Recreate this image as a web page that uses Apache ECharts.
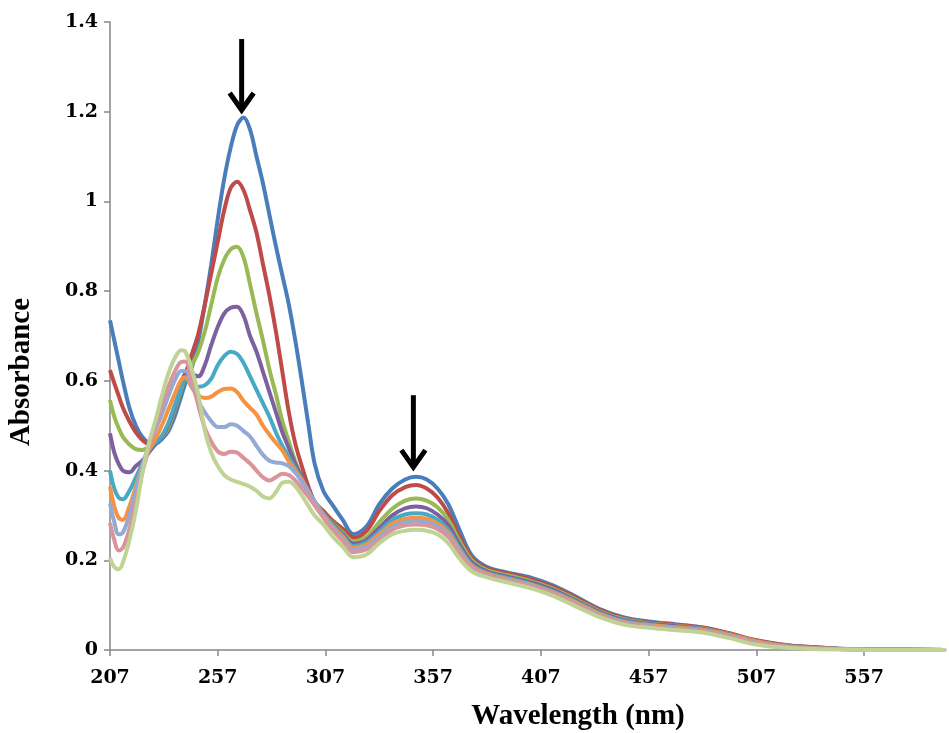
<!DOCTYPE html>
<html>
<head>
<meta charset="UTF-8">
<title>Absorbance vs Wavelength</title>
<script src="https://cdn.jsdelivr.net/npm/echarts@6/dist/echarts.min.js"></script>
<style>
  html, body { margin: 0; padding: 0; background: #fff; }
  #main { width: 949px; height: 733px; }
</style>
</head>
<body>
<div id="main"></div>
<script>
// wavelength grid (nm)
var wavelength = [207, 209, 211, 213, 216, 219, 222, 225, 228, 231, 234, 237, 240, 242, 245, 248, 251, 254, 257, 260,
  263, 266, 269, 272, 275, 278, 281, 284, 287, 290, 293, 296, 299, 302, 306, 310, 315, 320, 326, 332,
  338, 344, 349, 354, 359, 364, 369, 375, 382, 392, 402, 412, 422, 434, 446, 458, 470, 482, 494, 506,
  518, 530, 545, 565, 595];

// absorbance, one array per spectrum
var s1 = [0.735, 0.69, 0.645, 0.60, 0.54, 0.50, 0.475, 0.462, 0.46, 0.47, 0.487, 0.52, 0.565, 0.595, 0.63, 0.69, 0.77, 0.86, 0.96, 1.05,
  1.12, 1.17, 1.187, 1.16, 1.10, 1.04, 0.97, 0.90, 0.835, 0.77, 0.69, 0.60, 0.505, 0.415, 0.355, 0.325, 0.29, 0.258, 0.275, 0.325,
  0.36, 0.38, 0.386, 0.38, 0.36, 0.325, 0.27, 0.21, 0.185, 0.172, 0.162, 0.145, 0.122, 0.092, 0.072, 0.063, 0.057, 0.05, 0.037, 0.022,
  0.012, 0.007, 0.003, 0.001, 0];
var s2 = [0.624, 0.595, 0.567, 0.54, 0.51, 0.485, 0.468, 0.46, 0.462, 0.474, 0.495, 0.535, 0.585, 0.615, 0.66, 0.705, 0.77, 0.84, 0.91, 0.98,
  1.03, 1.044, 1.025, 0.98, 0.93, 0.86, 0.79, 0.71, 0.62, 0.53, 0.46, 0.41, 0.365, 0.33, 0.31, 0.29, 0.27, 0.25, 0.265, 0.31,
  0.345, 0.363, 0.368, 0.36, 0.34, 0.305, 0.255, 0.205, 0.182, 0.17, 0.158, 0.142, 0.12, 0.09, 0.07, 0.061, 0.056, 0.05, 0.038, 0.023,
  0.013, 0.007, 0.003, 0.001, 0];
var s3 = [0.557, 0.52, 0.495, 0.475, 0.458, 0.448, 0.446, 0.452, 0.46, 0.474, 0.495, 0.535, 0.58, 0.61, 0.635, 0.665, 0.71, 0.77, 0.83, 0.87,
  0.893, 0.899, 0.875, 0.815, 0.75, 0.69, 0.625, 0.57, 0.51, 0.465, 0.42, 0.385, 0.35, 0.33, 0.305, 0.285, 0.262, 0.242, 0.252, 0.285,
  0.315, 0.333, 0.338, 0.333, 0.318, 0.29, 0.245, 0.2, 0.178, 0.166, 0.154, 0.138, 0.116, 0.087, 0.068, 0.059, 0.054, 0.048, 0.036, 0.021,
  0.011, 0.006, 0.003, 0.001, 0];
var s4 = [0.483, 0.44, 0.415, 0.40, 0.396, 0.41, 0.422, 0.44, 0.458, 0.475, 0.50, 0.54, 0.585, 0.615, 0.615, 0.61, 0.635, 0.68, 0.72, 0.75,
  0.763, 0.765, 0.745, 0.70, 0.665, 0.62, 0.575, 0.53, 0.485, 0.45, 0.415, 0.385, 0.36, 0.33, 0.305, 0.283, 0.258, 0.237, 0.245, 0.272,
  0.30, 0.316, 0.32, 0.316, 0.302, 0.278, 0.237, 0.195, 0.175, 0.163, 0.151, 0.135, 0.113, 0.085, 0.066, 0.058, 0.053, 0.047, 0.035, 0.02,
  0.011, 0.006, 0.003, 0.001, 0];
var s5 = [0.40, 0.36, 0.34, 0.336, 0.355, 0.385, 0.415, 0.445, 0.462, 0.477, 0.505, 0.545, 0.585, 0.605, 0.60, 0.587, 0.59, 0.605, 0.635, 0.655,
  0.665, 0.66, 0.64, 0.61, 0.58, 0.55, 0.52, 0.485, 0.455, 0.43, 0.405, 0.38, 0.352, 0.33, 0.303, 0.28, 0.255, 0.232, 0.24, 0.264,
  0.29, 0.302, 0.305, 0.302, 0.29, 0.268, 0.23, 0.19, 0.172, 0.16, 0.148, 0.132, 0.111, 0.083, 0.064, 0.056, 0.051, 0.046, 0.034, 0.019,
  0.01, 0.005, 0.002, 0.001, 0];
var s6 = [0.364, 0.32, 0.295, 0.29, 0.32, 0.365, 0.41, 0.445, 0.47, 0.50, 0.535, 0.57, 0.602, 0.608, 0.585, 0.568, 0.562, 0.565, 0.575, 0.582,
  0.583, 0.575, 0.555, 0.54, 0.525, 0.50, 0.48, 0.462, 0.445, 0.42, 0.40, 0.38, 0.355, 0.33, 0.302, 0.278, 0.252, 0.228, 0.235, 0.258,
  0.282, 0.292, 0.295, 0.292, 0.282, 0.262, 0.225, 0.187, 0.17, 0.158, 0.146, 0.13, 0.109, 0.081, 0.062, 0.055, 0.05, 0.045, 0.034, 0.02,
  0.01, 0.005, 0.002, 0.001, 0];
var s7 = [0.327, 0.285, 0.258, 0.262, 0.30, 0.355, 0.41, 0.455, 0.49, 0.525, 0.565, 0.60, 0.622, 0.622, 0.59, 0.555, 0.53, 0.51, 0.497, 0.497,
  0.503, 0.50, 0.488, 0.476, 0.455, 0.435, 0.422, 0.418, 0.416, 0.41, 0.395, 0.375, 0.352, 0.33, 0.30, 0.275, 0.248, 0.224, 0.23, 0.252,
  0.275, 0.285, 0.288, 0.285, 0.276, 0.257, 0.222, 0.185, 0.168, 0.156, 0.144, 0.128, 0.107, 0.079, 0.061, 0.053, 0.048, 0.043, 0.032, 0.018,
  0.009, 0.004, 0.002, 0.001, 0];
var s8 = [0.283, 0.245, 0.222, 0.228, 0.27, 0.33, 0.395, 0.45, 0.50, 0.545, 0.585, 0.62, 0.642, 0.643, 0.60, 0.545, 0.495, 0.465, 0.443, 0.437,
  0.442, 0.44, 0.428, 0.416, 0.40, 0.385, 0.378, 0.385, 0.393, 0.39, 0.378, 0.36, 0.342, 0.322, 0.295, 0.27, 0.243, 0.218, 0.224, 0.245,
  0.268, 0.278, 0.28, 0.278, 0.27, 0.252, 0.218, 0.182, 0.166, 0.154, 0.142, 0.126, 0.105, 0.077, 0.059, 0.051, 0.046, 0.041, 0.03, 0.016,
  0.008, 0.004, 0.002, 0.0005, 0];
var s9 = [0.205, 0.185, 0.18, 0.195, 0.245, 0.31, 0.395, 0.46, 0.51, 0.565, 0.615, 0.65, 0.668, 0.665, 0.625, 0.57, 0.49, 0.44, 0.41, 0.39,
  0.38, 0.375, 0.37, 0.364, 0.355, 0.342, 0.338, 0.352, 0.373, 0.375, 0.365, 0.345, 0.322, 0.30, 0.28, 0.255, 0.23, 0.207, 0.213, 0.238,
  0.258, 0.266, 0.268, 0.266, 0.258, 0.238, 0.205, 0.175, 0.162, 0.15, 0.138, 0.122, 0.10, 0.074, 0.056, 0.049, 0.044, 0.039, 0.027, 0.013,
  0.006, 0.003, 0.001, 0, 0];

var xTicks = [207, 257, 307, 357, 407, 457, 507, 557];
// arrows: [wavelength, top, tip]
var arrows = [[268.1, 1.362, 1.197], [347.8, 0.568, 0.401]];

var colors = ['#4a7ebb', '#be4b48', '#98b954', '#7d60a0', '#46aac5', '#f69240', '#93a9d6', '#d9959a', '#bfd494'];
var spectra = [s1, s2, s3, s4, s5, s6, s7, s8, s9];

var myChart = echarts.init(document.getElementById('main'));
var series = [];
for (var i = 0; i < spectra.length; i++) {
    var pts = [];
    for (var j = 0; j < wavelength.length; j++) {
        pts.push([wavelength[j], spectra[i][j]]);
    }
    series.push({
        name: 'S' + (i + 1),
        type: 'line',
        data: pts,
        showSymbol: false,
        smooth: 0.35,
        silent: true,
        lineStyle: { width: 4, color: colors[i] },
        itemStyle: { color: colors[i] }
    });
}

var labelFont = { fontFamily: 'DejaVu Serif', fontWeight: 'bold', fontSize: 19, color: '#000' };
var titleFont = { fontFamily: 'Liberation Serif', fontWeight: 'bold', fontSize: 29, color: '#000' };

var option = {
    animation: false,
    backgroundColor: '#fff',
    grid: { left: 110, right: 3, top: 22, bottom: 83, outerBoundsMode: 'none', containLabel: false },
    xAxis: {
        type: 'value',
        min: 207,
        max: 595,
        name: 'Wavelength (nm)',
        nameLocation: 'middle',
        nameGap: 52,
        nameTextStyle: Object.assign({ padding: [0, 0, 0, 100] }, titleFont),
        splitLine: { show: false },
        axisLine: { lineStyle: { color: '#868686', width: 1.5 } },
        axisTick: { show: true, length: 6, customValues: xTicks, lineStyle: { color: '#868686', width: 1.5 } },
        axisLabel: Object.assign({ customValues: xTicks, margin: 19 }, labelFont)
    },
    yAxis: {
        type: 'value',
        min: 0,
        max: 1.4,
        interval: 0.2,
        name: 'Absorbance',
        nameLocation: 'middle',
        nameGap: 74,
        nameTextStyle: Object.assign({ padding: [0, 72, 0, 0] }, titleFont),
        splitLine: { show: false },
        axisLine: { show: true, lineStyle: { color: '#868686', width: 1.5 } },
        axisTick: { show: true, length: 6, lineStyle: { color: '#868686', width: 1.5 } },
        axisLabel: Object.assign({ margin: 12 }, labelFont)
    },
    series: series
};
myChart.setOption(option);

// arrow annotations
var g = [];
for (var k = 0; k < arrows.length; k++) {
    var pTop = myChart.convertToPixel({ gridIndex: 0 }, [arrows[k][0], arrows[k][1]]);
    var pTip = myChart.convertToPixel({ gridIndex: 0 }, [arrows[k][0], arrows[k][2]]);
    g.push({
        type: 'line',
        shape: { x1: pTop[0], y1: pTop[1], x2: pTip[0], y2: pTip[1] - 3 },
        style: { stroke: '#000', lineWidth: 5 },
        z: 100
    });
    g.push({
        type: 'polyline',
        shape: { points: [[pTip[0] - 12, pTip[1] - 20], [pTip[0], pTip[1] - 3], [pTip[0] + 12, pTip[1] - 20]] },
        style: { stroke: '#000', lineWidth: 5, fill: null, lineJoin: 'miter' },
        z: 100
    });
}
myChart.setOption({ graphic: g });
</script>
</body>
</html>
